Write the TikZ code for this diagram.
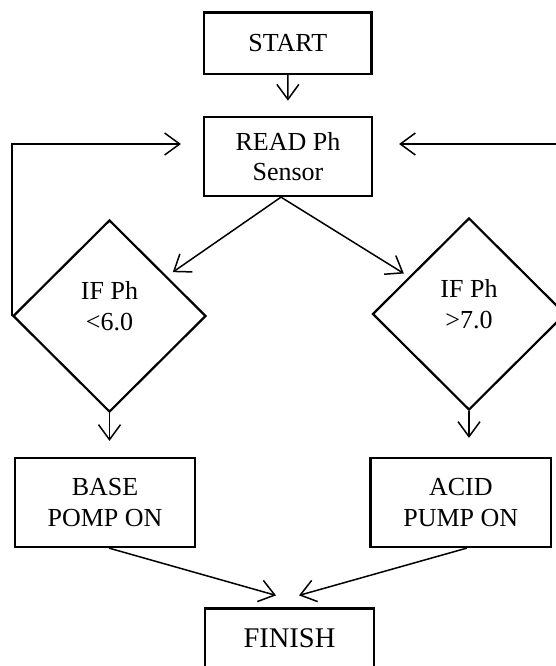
\documentclass[tikz,border=0pt]{standalone}
\usepackage{fontspec}
\setmainfont{Liberation Serif}
\usetikzlibrary{shapes.geometric,arrows.meta}

\tikzset{
  stepbox/.style={draw, line width=2.2pt, align=center, inner sep=0pt},
  ifbox/.style={diamond, draw, line width=2.2pt, inner sep=0pt, minimum width=193pt, minimum height=192pt},
  flow/.style={line width=1.5pt, -{Straight Barb[length=15pt,width=22pt,line width=1.5pt]}},
}

\begin{document}
\begin{tikzpicture}[font=\fontsize{26}{30.5}\selectfont]
    \useasboundingbox (0pt,0pt) rectangle (556pt,-666pt);
    \clip (0pt,0pt) rectangle (556pt,-666pt);
    % boxes and decisions
    \node[stepbox, minimum width=167.5pt, minimum height=61.5pt] (start) at (287.8pt, -43.2pt) {START};
    \node[stepbox, minimum width=168pt, minimum height=79.3pt] (read) at (288pt, -156.4pt) {READ Ph\\Sensor};
    \node[ifbox, label={[align=center, yshift=10pt]center:IF Ph\\<6.0}] (iflow) at (109.5pt, -316pt) {};
    \node[ifbox, label={[align=center, yshift=10pt]center:IF Ph\\>7.0}] (ifhigh) at (469pt, -314pt) {};
    \node[stepbox, minimum width=180pt, minimum height=89pt] (base) at (105pt, -502.5pt) {BASE\\POMP ON};
    \node[stepbox, minimum width=180.5pt, minimum height=89pt] (acid) at (460.8pt, -502.5pt) {ACID\\PUMP ON};
    \node[stepbox, minimum width=169pt, minimum height=59pt, font=\fontsize{28.5}{32}\selectfont] (finish) at (289.5pt, -638pt) {FINISH};
    % connectors
    \draw[flow, shorten >=15pt] (start) -- (read);
    \draw[flow, shorten >=7pt] ([xshift=-7pt]read.south) -- (iflow);
    \draw[flow, shorten >=6pt] ([xshift=-7pt]read.south) -- (ifhigh);
    \draw[flow, shorten >=16pt] (iflow.south) -- (iflow.south |- base.north);
    \draw[flow, shorten >=19pt] (ifhigh.south) -- (ifhigh.south |- acid.north);
    \draw[flow, shorten >=22pt] (iflow.west) |- ([yshift=12.4pt]read.west);
    \draw[flow, shorten >=26pt] (ifhigh.east) |- ([yshift=12.4pt]read.east);
    \draw[flow] ([xshift=4pt]base.south) -- ([xshift=-13.5pt,yshift=12pt]finish.north);
    \draw[flow] ([xshift=6pt]acid.south) -- ([xshift=9.5pt,yshift=12pt]finish.north);
\end{tikzpicture}
\end{document}
